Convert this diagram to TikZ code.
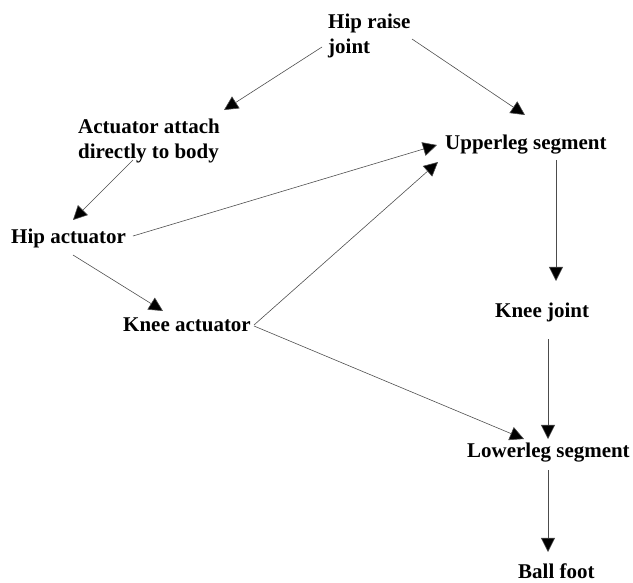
\documentclass[tikz,border=0pt]{standalone}
\usepackage{fontspec}
\setmainfont{Liberation Serif}
\usetikzlibrary{arrows.meta}
\begin{document}
\begin{tikzpicture}[x=0.03cm,y=-0.03cm,
  lbl/.style={inner sep=0pt,font=\fontsize{17.9pt}{21.5pt}\selectfont\bfseries,align=left},
  arr/.style={draw=black!70,line width=0.5pt,-{Triangle[length=12pt,width=12pt,fill=black]}}]
  \useasboundingbox (0,0) rectangle (633,583);
  \node [lbl,anchor=north west] (hipraise) at (328,13.5) {Hip raise\\joint};
  \node [lbl,anchor=north west] (attach) at (78,119) {Actuator attach\\directly to body};
  \node [lbl,anchor=base west] (hipact) at (11,243) {Hip actuator};
  \node [lbl,anchor=base west] (kneeact) at (123,331) {Knee actuator};
  \node [lbl,anchor=base west] (upper) at (445,149) {Upperleg segment};
  \node [lbl,anchor=base west] (kneejt) at (495,317) {Knee joint};
  \node [lbl,anchor=base west] (lower) at (467,457) {Lowerleg segment};
  \node [lbl,anchor=base west] (ball) at (518,578) {Ball foot};
  \draw [arr] ([shift={(-6,33.5)}]hipraise.north west) -- ([shift={(146,-9)}]attach.north west);
  \draw [arr] ([shift={(84,25.5)}]hipraise.north west) -- ([shift={(80,-34)}]upper.base west);
  \draw [arr] ([shift={(55,41)}]attach.north west) -- ([shift={(62,-23)}]hipact.base west);
  \draw [arr] ([shift={(122,-7)}]hipact.base west) -- ([shift={(-8,-4)}]upper.base west);
  \draw [arr] ([shift={(62,12)}]hipact.base west) -- ([shift={(40,-20)}]kneeact.base west);
  \draw [arr] ([shift={(131,-6)}]kneeact.base west) -- ([shift={(-7,13)}]upper.base west);
  \draw [arr] ([shift={(131,-5)}]kneeact.base west) -- ([shift={(57,-18)}]lower.base west);
  \draw [arr] ([shift={(111,11)}]upper.base west) -- ([shift={(61,-36)}]kneejt.base west);
  \draw [arr] ([shift={(53,22)}]kneejt.base west) -- ([shift={(81,-18)}]lower.base west);
  \draw [arr] ([shift={(81,13)}]lower.base west) -- ([shift={(30,-26)}]ball.base west);
\end{tikzpicture}
\end{document}
